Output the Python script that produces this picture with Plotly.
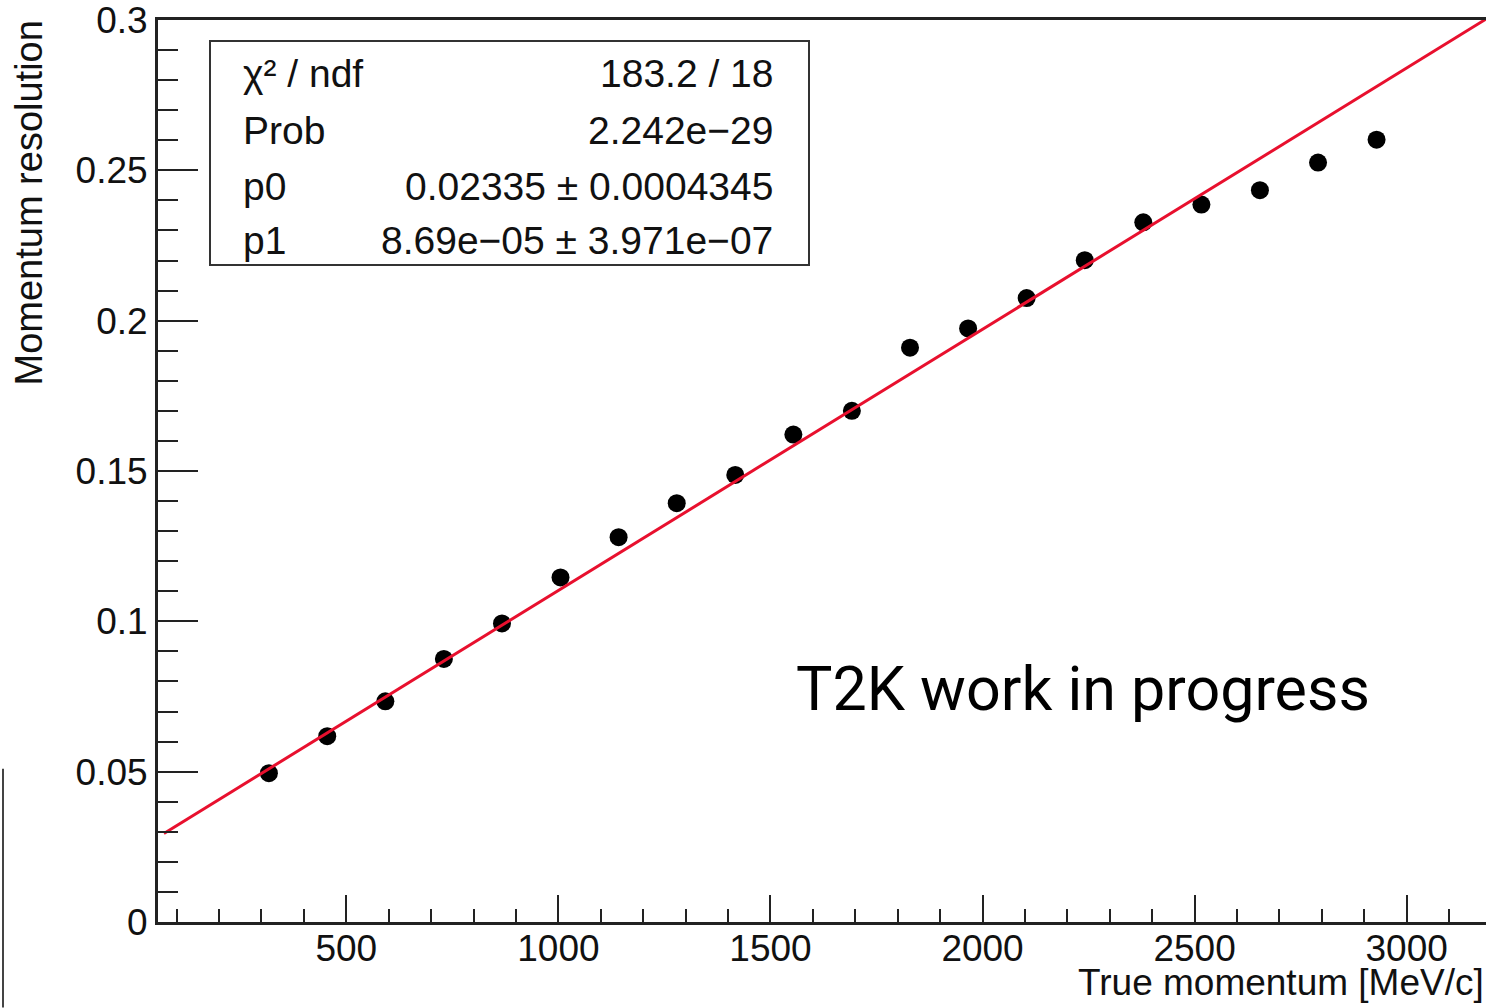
import plotly.graph_objects as go

# ---- data ----
true_momentum = [317.5, 455, 592, 730, 867, 1005, 1142, 1279, 1417, 1554,
                 1692, 1829, 1966, 2104, 2241, 2379, 2516, 2654, 2791, 2929]
momentum_resolution = [0.0495, 0.0618, 0.0734, 0.0875, 0.0993, 0.1146, 0.1280, 0.1393,
                       0.1487, 0.1621, 0.1700, 0.1910, 0.1974, 0.2075, 0.2201, 0.2327,
                       0.2386, 0.2434, 0.2526, 0.2602]

p0 = 0.02335
p1 = 8.69e-05
fit_range = [70, 3200]

stats_labels = ["χ² / ndf", "Prob", "p0", "p1"]
stats_values = ["183.2 / 18", "2.242e−29", "0.02335 ± 0.0004345", "8.69e−05 ± 3.971e−07"]

x_range = [56, 3187]
y_range = [0, 0.3000001]

# ---- figure geometry (pixels) ----
W, H = 1486, 1008
L, R, T, B = 158, 0, 16, 86
PW, PH = W - L - R, H - T - B


def px(xp):
    return (xp - L) / PW


def py(yp):
    return (H - B - yp) / PH


FONT = "Liberation Sans, Arial, Helvetica, sans-serif"
AX = "#222222"

fig = go.Figure()
fig.add_trace(go.Scatter(
    x=true_momentum, y=momentum_resolution, mode="markers",
    marker=dict(color="black", size=18, line=dict(width=0)),
    showlegend=False))
fit_y = [p0 + p1 * v for v in fit_range]
fig.add_trace(go.Scatter(
    x=fit_range, y=fit_y, mode="lines",
    line=dict(color="#e8102e", width=3), showlegend=False))

axis_common = dict(
    showline=True, linewidth=3, linecolor=AX, showgrid=False, zeroline=False,
    ticks="inside", tickwidth=2, tickcolor=AX, ticklabeloverflow="allow",
    tickfont=dict(family=FONT, size=37, color="#111"),
)
fig.update_xaxes(range=x_range, dtick=500, tick0=0, ticklen=27, mirror=True,
                 ticklabelstandoff=-8,
                 minor=dict(ticks="inside", ticklen=13, tickwidth=2, tickcolor=AX,
                            dtick=100, tick0=0, showgrid=False),
                 **axis_common)
fig.update_yaxes(range=y_range, dtick=0.05, tick0=0, ticklen=40,
                 minor=dict(ticks="inside", ticklen=20, tickwidth=2, tickcolor=AX,
                            dtick=0.01, tick0=0, showgrid=False),
                 **axis_common)

shapes = [
    # stats box
    dict(type="rect", xref="paper", yref="paper",
         x0=px(210), x1=px(809), y0=py(262), y1=py(37),
         fillcolor="white", line=dict(color="#333", width=2), layer="above"),
    # stray vertical line at the far left
    dict(type="line", xref="paper", yref="paper",
         x0=px(3), x1=px(3), y0=py(1008), y1=py(768),
         line=dict(color="#444", width=2)),
]

annotations = []
baselines = [83, 139.5, 196.5, 250]
SF = 39
for lab, val, bl in zip(stats_labels, stats_values, baselines):
    yc = py(bl - 13)
    annotations.append(dict(xref="paper", yref="paper", x=px(241), y=yc,
                            xanchor="left", yanchor="middle", showarrow=False,
                            text=lab, font=dict(family=FONT, size=SF, color="#111")))
    annotations.append(dict(xref="paper", yref="paper", x=px(775), y=yc,
                            xanchor="right", yanchor="middle", showarrow=False,
                            text=val, font=dict(family=FONT, size=SF, color="#111")))

# axis titles
annotations.append(dict(xref="paper", yref="paper", x=px(29), y=py(15),
                        xanchor="center", yanchor="top", textangle=-90, showarrow=False,
                        text="Momentum resolution",
                        font=dict(family=FONT, size=38, color="#111")))
annotations.append(dict(xref="paper", yref="paper", x=px(1486), y=py(983),
                        xanchor="right", yanchor="middle", showarrow=False,
                        text="True momentum [MeV/c]",
                        font=dict(family=FONT, size=37, color="#111")))
# watermark text
annotations.append(dict(xref="paper", yref="paper", x=px(1083), y=py(688),
                        xanchor="center", yanchor="middle", showarrow=False,
                        text="T2K work in progress",
                        font=dict(family="Roboto, sans-serif", size=61, color="black")))

fig.update_layout(
    width=W, height=H,
    margin=dict(l=L, r=R, t=T, b=B, pad=0),
    paper_bgcolor="white", plot_bgcolor="white",
    shapes=shapes, annotations=annotations,
    showlegend=False,
)

fig.write_html(
    "out.html",
    config={"displayModeBar": False},
    post_script="document.body.style.margin='0';document.body.style.overflow='hidden';"
                "document.documentElement.style.overflow='hidden';",
)
